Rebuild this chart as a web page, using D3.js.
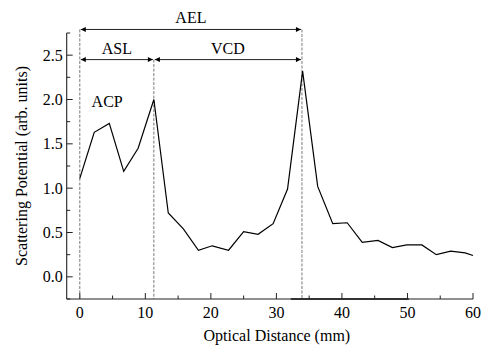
<!DOCTYPE html>
<html>
<head>
<meta charset="utf-8">
<script src="https://d3js.org/d3.v7.min.js"></script>
<style>
  body { margin: 0; background: #fff; }
  text { font-family: "Liberation Serif", "DejaVu Serif", serif; fill: #000; }
</style>
</head>
<body>
<script>
// data
const distance = [0, 2.2, 4.5, 6.7, 8.9, 11.3, 13.5, 15.8, 18.1, 20.2, 22.7, 25.0, 27.2, 29.5,
  31.7, 34.0, 36.3, 38.6, 40.8, 43.1, 45.5, 47.7, 49.9, 52.2, 54.4, 56.6, 58.8, 60];
const potential = [1.11, 1.63, 1.73, 1.19, 1.45, 2.0, 0.72, 0.54, 0.30, 0.35, 0.30, 0.51, 0.48, 0.60,
  0.99, 2.32, 1.02, 0.60, 0.61, 0.39, 0.41, 0.33, 0.36, 0.36, 0.25, 0.29, 0.27, 0.24];
const xTicks = [0, 10, 20, 30, 40, 50, 60];
const yTicks = [0.0, 0.5, 1.0, 1.5, 2.0, 2.5];
// marker lines and spans
const markers = [0, 11.3, 33.9];
const spans = [
  {name: "AEL", from: 0, to: 33.9, level: 2.79},
  {name: "ASL", from: 0, to: 11.3, level: 2.45},
  {name: "VCD", from: 11.3, to: 33.9, level: 2.45}
];

const W = 484, H = 346;
const margin = {left: 66.7, right: 11, top: 33, bottom: 47};

const svg = d3.select("body").append("svg")
  .attr("width", W).attr("height", H);

const x = d3.scaleLinear().domain([-2, 60]).range([margin.left, W - margin.right]);
const y = d3.scaleLinear().domain([-0.25, 2.75]).range([H - margin.bottom, margin.top]);

const defs = svg.append("defs");
defs.append("marker").attr("id", "ah")
  .attr("viewBox", "0 0 10 10").attr("refX", 10).attr("refY", 5)
  .attr("markerWidth", 6).attr("markerHeight", 5)
  .attr("markerUnits", "userSpaceOnUse")
  .attr("orient", "auto-start-reverse")
  .append("path").attr("d", "M0,0L10,5L0,10z").attr("fill", "#000");

// bottom axis
const xAxis = svg.append("g")
  .attr("transform", `translate(0,${y(-0.25)})`);
xAxis.append("line")
  .attr("x1", x(-2)).attr("x2", x(60))
  .attr("stroke", "#222").attr("stroke-width", 1.1);
// scan artefact: heavier piece of the base line
xAxis.append("line")
  .attr("x1", x(32.2)).attr("x2", x(50.2))
  .attr("stroke", "#333").attr("stroke-width", 2);
xAxis.selectAll(".mj").data(xTicks).join("line")
  .attr("x1", d => x(d)).attr("x2", d => x(d))
  .attr("y1", 0).attr("y2", -6).attr("stroke", "#222");
xAxis.selectAll(".mn").data(d3.range(5, 60, 10)).join("line")
  .attr("x1", d => x(d)).attr("x2", d => x(d))
  .attr("y1", 0).attr("y2", -3.5).attr("stroke", "#222");
xAxis.selectAll("text").data(xTicks).join("text")
  .attr("x", d => x(d)).attr("y", 19)
  .attr("text-anchor", "middle").attr("font-size", 16)
  .text(d => d);

// left axis
const yAxis = svg.append("g")
  .attr("transform", `translate(${x(-2)},0)`);
yAxis.append("line")
  .attr("y1", y(-0.25)).attr("y2", y(2.75))
  .attr("stroke", "#222").attr("stroke-width", 1.1);
yAxis.selectAll(".mj").data(yTicks).join("line")
  .attr("y1", d => y(d)).attr("y2", d => y(d))
  .attr("x1", 0).attr("x2", 6).attr("stroke", "#222");
yAxis.selectAll(".mn").data([-0.25, 0.25, 0.75, 1.25, 1.75, 2.25, 2.75]).join("line")
  .attr("y1", d => y(d)).attr("y2", d => y(d))
  .attr("x1", 0).attr("x2", 3.5).attr("stroke", "#222");
yAxis.selectAll("text").data(yTicks).join("text")
  .attr("x", -4).attr("y", d => y(d)).attr("dy", "0.35em")
  .attr("text-anchor", "end").attr("font-size", 16)
  .text(d => d.toFixed(1));

// axis titles
svg.append("text")
  .attr("x", (x(-2) + x(60)) / 2 + 7).attr("y", 341)
  .attr("text-anchor", "middle").attr("font-size", 16)
  .text("Optical Distance (mm)");
svg.append("text")
  .attr("transform", `translate(27,${(y(-0.25) + y(2.75)) / 2}) rotate(-90)`)
  .attr("text-anchor", "middle").attr("font-size", 16)
  .text("Scattering Potential (arb. units)");

// dashed marker lines
const tops = {0: 2.79, 11.3: 2.45, 33.9: 2.79};
svg.selectAll(".mark").data(markers).join("line")
  .attr("x1", d => x(d)).attr("x2", d => x(d))
  .attr("y1", d => y(tops[d])).attr("y2", y(-0.25))
  .attr("stroke", "#555").attr("stroke-width", 0.8)
  .attr("stroke-dasharray", "3,1.5");

// span arrows
svg.selectAll(".span").data(spans).join("line")
  .attr("x1", d => x(d.from) + 1).attr("x2", d => x(d.to) - 1)
  .attr("y1", d => y(d.level)).attr("y2", d => y(d.level))
  .attr("stroke", "#222").attr("stroke-width", 1)
  .attr("marker-start", "url(#ah)").attr("marker-end", "url(#ah)");
svg.selectAll(".spanlbl").data(spans).join("text")
  .attr("x", d => (x(d.from) + x(d.to)) / 2)
  .attr("y", d => y(d.level) - 6)
  .attr("text-anchor", "middle").attr("font-size", 16)
  .text(d => d.name);

svg.append("text")
  .attr("x", x(1.8)).attr("y", y(1.92))
  .attr("font-size", 16).text("ACP");

// data line
const pts = distance.map((d, i) => [d, potential[i]]);
svg.append("path").datum(pts)
  .attr("fill", "none").attr("stroke", "#000").attr("stroke-width", 1.2)
  .attr("d", d3.line().x(d => x(d[0])).y(d => y(d[1])));
</script>
</body>
</html>
